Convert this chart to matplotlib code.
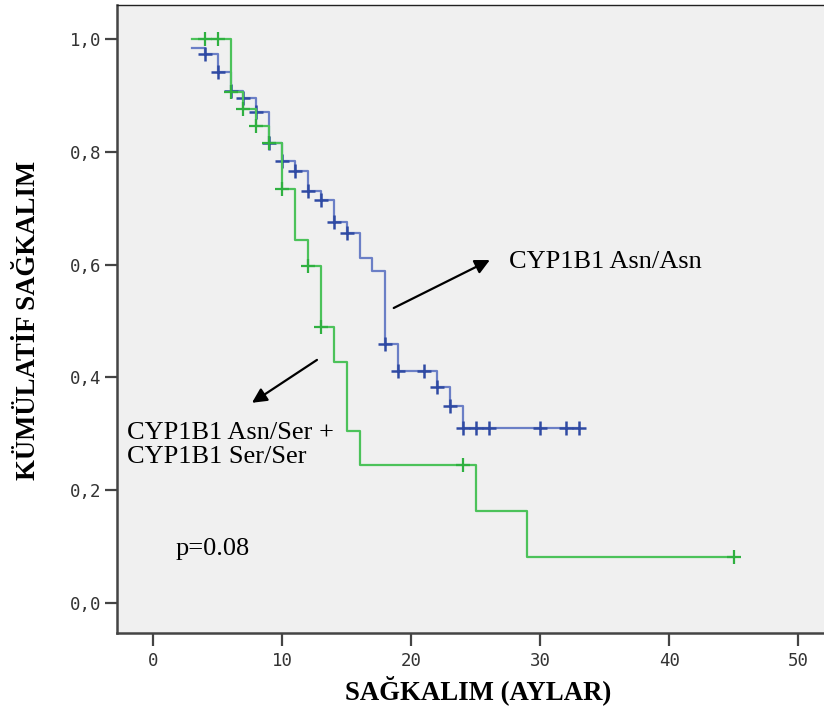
"""
Kaplan-Meier curves for CYP1B1 genotypes (SPSS style)
"""

import numpy as np
import matplotlib
matplotlib.use("Agg")
import matplotlib.pyplot as plt

# CYP1B1 Asn/Asn  (step times and survival after each step)
asn_times = [3, 4, 5, 6, 7, 8, 9, 10, 11, 12, 13, 14, 15, 16, 17, 18, 19, 22, 23, 24, 33]
asn_surv = [0.984, 0.973, 0.941, 0.908, 0.895, 0.871, 0.816, 0.784, 0.766, 0.730, 0.715,
            0.676, 0.656, 0.612, 0.589, 0.459, 0.411, 0.383, 0.349, 0.310, 0.310]
asn_censor = [4, 5, 6, 7, 8, 9, 10, 11, 12, 13, 14, 15, 18, 19, 21, 22, 23, 24, 25, 26, 30, 32, 33]

# CYP1B1 Asn/Ser + Ser/Ser
ser_times = [3, 6, 7, 8, 9, 10, 11, 12, 13, 14, 15, 16, 25, 29, 45]
ser_surv = [1.0, 0.905, 0.876, 0.846, 0.815, 0.734, 0.644, 0.597, 0.489, 0.427, 0.305,
            0.245, 0.163, 0.082, 0.082]
ser_censor = [4, 5, 6, 7, 8, 9, 10, 12, 13, 24, 45]

x_ticks = [0, 10, 20, 30, 40, 50]
y_ticks = [0.0, 0.2, 0.4, 0.6, 0.8, 1.0]
y_ticklabels = ["0,0", "0,2", "0,4", "0,6", "0,8", "1,0"]


def censor_levels(times, surv, cens):
    idx = np.searchsorted(times, cens, side="right") - 1
    return np.asarray(surv)[idx]


serif = "Liberation Serif"
fig = plt.figure(figsize=(8.24, 7.11), dpi=100)
ax = fig.add_axes([117 / 824, 78 / 711, 707 / 824, 628 / 711])
ax.set_facecolor("#f0f0f0")

# curves
ax.step(asn_times, asn_surv, where="post", color="#6b7fc6", lw=1.6)
ax.plot(asn_censor, censor_levels(asn_times, asn_surv, asn_censor), linestyle="none",
        marker="+", markersize=10, mew=1.8, color="#2f4aa3")
ax.step(ser_times, ser_surv, where="post", color="#4cc25a", lw=1.6)
ax.plot(ser_censor, censor_levels(ser_times, ser_surv, ser_censor), linestyle="none",
        marker="+", markersize=10, mew=1.6, color="#2fb040")

# annotations
arrow = dict(arrowstyle="-|>", color="black", lw=1.6, mutation_scale=22, shrinkA=0, shrinkB=0)
ax.annotate("", xy=(26.1, 0.608), xytext=(18.65, 0.523), arrowprops=arrow)
ax.annotate("", xy=(7.66, 0.355), xytext=(12.7, 0.431), arrowprops=arrow)
ax.text(27.6, 0.605, "CYP1B1 Asn/Asn", family=serif, fontsize=19, va="center", ha="left")
ax.text(-2.0, 0.280, "CYP1B1 Asn/Ser +\nCYP1B1 Ser/Ser", family=serif, fontsize=19,
        va="center", ha="left", linespacing=1.1)
ax.text(1.7, 0.096, "p=0.08", family=serif, fontsize=19, va="center", ha="left")

ax.set_xlim(-2.8, 52.0)
ax.set_ylim(-0.053, 1.060)
ax.set_xticks(x_ticks)
ax.set_yticks(y_ticks)
ax.set_yticklabels(y_ticklabels)
for lab in ax.get_xticklabels() + ax.get_yticklabels():
    lab.set_family("DejaVu Sans Mono")
    lab.set_fontsize(12.5)
    lab.set_color("#333333")
ax.tick_params(axis="both", length=9, width=1.6, color="#444444")
ax.tick_params(axis="x", pad=5)
ax.tick_params(axis="y", pad=2)

ax.spines["right"].set_visible(False)
ax.spines["top"].set_linewidth(1.0)
ax.spines["top"].set_color("#222222")
for s in ("left", "bottom"):
    ax.spines[s].set_linewidth(1.8)
    ax.spines[s].set_color("#444444")

fig.text(478 / 824, 1 - 690 / 711, "SAĞKALIM (AYLAR)", family=serif, fontsize=19.3,
         fontweight="bold", ha="center", va="center")
fig.text(29 / 824, 1 - 320 / 711, "KÜMÜLATİF SAĞKALIM", family=serif, fontsize=19.3,
         fontweight="bold", ha="center", va="center", rotation=90)

fig.savefig("out.png", dpi=100, facecolor="white")
